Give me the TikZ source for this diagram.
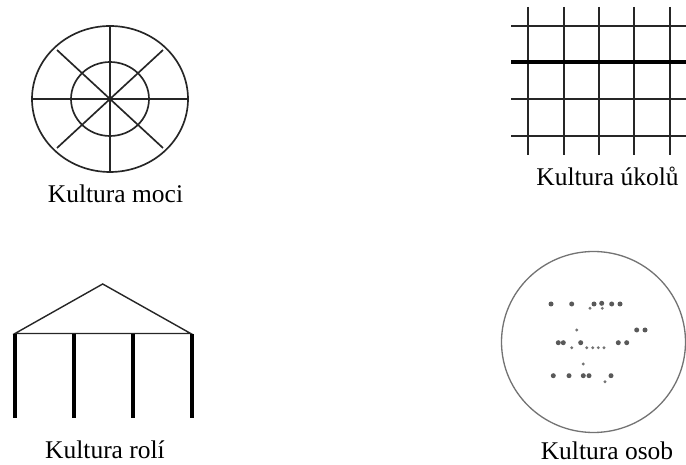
\documentclass[tikz,border=0pt]{standalone}
\usepackage{fontspec}
\setmainfont{Liberation Serif}
\usetikzlibrary{positioning}
\tikzset{
    % captions under the four pictures
    cultlbl/.style={font=\fontsize{14.5}{17}\selectfont, inner sep=0pt, anchor=base},
    % line weights
    thinline/.style={line width=0.95pt, black!85},
    roofline/.style={line width=0.8pt, black!85},
    heavyline/.style={line width=2.4pt, black},
    % person culture
    ringline/.style={line width=0.75pt, black!55},
    bigdot/.style={fill=black!65},
    smalldot/.style={fill=black!55},
}

\begin{document}
\begin{tikzpicture}[x=0.02cm, y=-0.02cm]
\useasboundingbox (0,0) rectangle (686,465);

% Kultura moci
\coordinate (moc) at (110,99);
\draw[thinline] (moc) ellipse [x radius=78, y radius=73];
\draw[thinline] (moc) ellipse [x radius=39, y radius=37];
\draw[thinline] (110,26) -- (110,172);
\draw[thinline] (32,99) -- (188,99);
\draw[thinline] (57,50) -- (163,148);
\draw[thinline] (57,148) -- (163,50);
\node[cultlbl] (moci) at (115.5,203) {Kultura moci};

% Kultura úkolů
\foreach \x in {528.3,563.7,599,634.3,669.7}
    \draw[thinline] (\x,7) -- (\x,155);
\foreach \y in {26,99,135.7}
    \draw[thinline] (511,\y) -- (686,\y);
\draw[heavyline] (511,62.3) -- (686,62.3);
\node[cultlbl] (ukolu) at (607.5,185.5) {Kultura úkolů};

% Kultura rolí
\draw[roofline] (15,333.5) -- (102.7,284) -- (190.7,333.5) -- cycle;
\foreach \x in {14.7,74,132.7,191.7}
    \draw[heavyline] (\x,334) -- (\x,418.3);
\node[cultlbl] (roli) at (105,458.3) {Kultura rolí};

% Kultura osob
\draw[ringline] (593.5,342) ellipse [x radius=92, y radius=90.5];
\foreach \x/\y in {551/304, 571.7/304, 594/304, 601.7/303.3, 611.7/304, 620/304,
                   636.7/330, 645/330,
                   558.3/342.7, 563.3/342.7, 580.7/342.7, 618.3/342.7, 626.7/342.7,
                   553.3/375.7, 569/375.7, 583.3/375.7, 589/375.7, 611/375.7}
    \fill[bigdot] (\x,\y) circle (2.5);
\foreach \x/\y in {590/308.3, 602.3/308.3, 576.7/330,
                   571.7/347.7, 586.7/347.7, 592.7/347.7, 598.3/347.7, 604/347.7,
                   583.3/364, 605/381.7}
    \fill[smalldot] (\x,\y) circle (1.6);
\node[cultlbl] (osob) at (607,459.3) {Kultura osob};
\end{tikzpicture}
\end{document}
